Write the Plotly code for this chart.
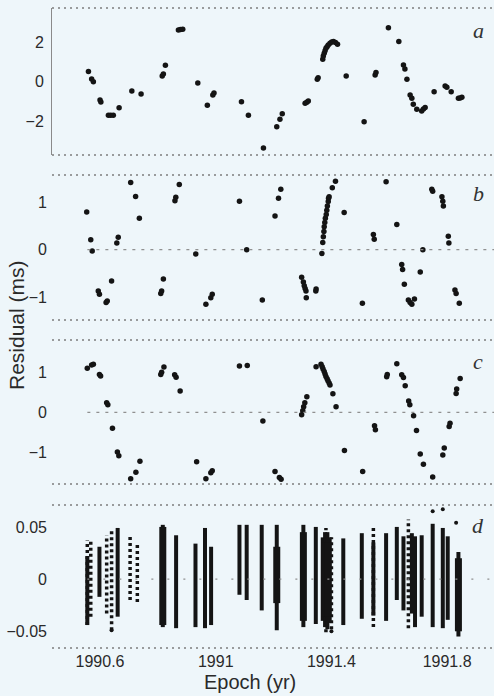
import plotly.graph_objects as go

# ---------------- data ----------------
# Panel a: residuals (ms)
a_epoch = [1990.560, 1990.571, 1990.577, 1990.600, 1990.603, 1990.629, 1990.637, 1990.646,
           1990.666, 1990.710, 1990.742, 1990.815, 1990.819, 1990.826, 1990.871, 1990.878,
           1990.886, 1990.938, 1990.971, 1990.990, 1990.994, 1991.089, 1991.113, 1991.165,
           1991.211, 1991.222, 1991.230, 1991.309, 1991.315, 1991.320, 1991.351, 1991.354,
           1991.370, 1991.372, 1991.375, 1991.378, 1991.381, 1991.385, 1991.389, 1991.395,
           1991.401, 1991.407, 1991.414, 1991.421,
           1991.451, 1991.513, 1991.551, 1991.554, 1991.597, 1991.633, 1991.649, 1991.654,
           1991.661, 1991.672, 1991.678, 1991.683, 1991.695, 1991.712, 1991.718, 1991.724,
           1991.755, 1991.793, 1991.799, 1991.814, 1991.839, 1991.845, 1991.851]
a_resid = [0.50, 0.13, -0.01, -0.94, -1.04, -1.71, -1.71, -1.71,
           -1.33, -0.48, -0.63, 0.28, 0.38, 0.82, 2.61, 2.63,
           2.64, -0.08, -1.20, -0.68, -0.58, -1.02, -1.71, -3.37,
           -2.29, -1.91, -1.63, -1.10, -1.05, -0.99, 0.11, 0.19,
           1.12, 1.29, 1.43, 1.56, 1.68, 1.76, 1.85, 1.93,
           2.00, 2.02, 1.98, 1.88,
           0.28, -2.04, 0.33, 0.45, 2.72, 2.02, 0.84, 0.63,
           0.11, -0.68, -0.85, -1.15, -1.41, -1.49, -1.39, -1.31,
           -0.52, -0.23, -0.29, -0.52, -0.85, -0.83, -0.80]

# Panel b
b_epoch = [1990.554, 1990.568, 1990.573, 1990.594, 1990.598, 1990.621, 1990.625, 1990.640,
           1990.658, 1990.663, 1990.706, 1990.723, 1990.736, 1990.810, 1990.813, 1990.819,
           1990.859, 1990.862, 1990.874, 1990.931, 1990.966, 1990.983, 1990.988, 1991.082,
           1991.107, 1991.161, 1991.205, 1991.217, 1991.225, 1991.297, 1991.303, 1991.306,
           1991.309, 1991.312, 1991.313, 1991.346, 1991.347, 1991.367,
           1991.370, 1991.372, 1991.374, 1991.375, 1991.377, 1991.379, 1991.382, 1991.384,
           1991.386, 1991.389, 1991.390, 1991.392, 1991.403, 1991.414,
           1991.444, 1991.507, 1991.545, 1991.548, 1991.589, 1991.626, 1991.643, 1991.646,
           1991.652, 1991.666, 1991.672, 1991.678, 1991.687, 1991.707, 1991.716, 1991.747,
           1991.750, 1991.782, 1991.785, 1991.787, 1991.804, 1991.806, 1991.827, 1991.831,
           1991.842]
b_resid = [0.79, 0.21, -0.03, -0.87, -0.94, -1.11, -1.08, -0.66,
           0.14, 0.26, 1.41, 1.12, 0.66, -0.92, -0.87, -0.62,
           1.03, 1.10, 1.37, -0.09, -1.15, -1.01, -0.94, 1.02,
           0.00, -1.06, 0.71, 1.08, 1.27, -0.58, -0.68, -0.76,
           -0.82, -0.87, -1.01, -0.87, -0.83, -0.08,
           0.15, 0.27, 0.38, 0.48, 0.57, 0.66, 0.74, 0.83,
           0.92, 1.01, 1.08, 1.11, 1.30, 1.44,
           0.78, -1.13, 0.32, 0.22, 1.43, 0.53, -0.31, -0.42,
           -0.73, -1.06, -1.11, -1.15, -1.04, -0.47, 0.00, 1.27,
           1.23, 1.11, 1.02, 0.92, 0.28, 0.14, -0.85, -0.92,
           -1.13]

# Panel c
c_epoch = [1990.556, 1990.571, 1990.577, 1990.598, 1990.602, 1990.623, 1990.627, 1990.643,
           1990.660, 1990.665, 1990.706, 1990.724, 1990.738, 1990.810, 1990.813, 1990.821,
           1990.858, 1990.863, 1990.877, 1990.934, 1990.966, 1990.983, 1990.988, 1991.082,
           1991.109, 1991.163, 1991.205, 1991.220, 1991.226,
           1991.297, 1991.301, 1991.304, 1991.308, 1991.315, 1991.347,
           1991.364, 1991.368, 1991.371, 1991.375, 1991.378, 1991.381, 1991.385, 1991.388,
           1991.392, 1991.395,
           1991.405, 1991.416, 1991.445, 1991.508, 1991.549, 1991.552, 1991.591, 1991.593,
           1991.626, 1991.643, 1991.649, 1991.655, 1991.667, 1991.671, 1991.684, 1991.694,
           1991.707, 1991.718, 1991.750, 1991.785, 1991.790, 1991.807, 1991.810, 1991.831,
           1991.833, 1991.845]
c_resid = [1.09, 1.17, 1.19, 0.94, 0.90, 0.24, 0.19, -0.39,
           -0.98, -1.07, -1.64, -1.48, -1.21, 0.94, 0.99, 1.12,
           0.93, 0.87, 0.53, -1.22, -1.64, -1.49, -1.44, 1.15,
           1.16, -0.21, -1.46, -1.61, -1.65,
           -0.06, 0.04, 0.14, 0.24, 0.39, 1.13,
           1.19, 1.13, 1.07, 1.01, 0.95, 0.89, 0.83, 0.78,
           0.73, 0.68,
           0.46, 0.14, -0.94, -1.46, -0.33, -0.43, 0.88, 0.94,
           1.20, 0.93, 0.86, 0.66, 0.28, 0.19, -0.08, -0.45,
           -1.03, -1.28, -1.60, -1.05, -0.88, -0.35, -0.27, 0.47,
           0.58, 0.84]

# Panel d: extent of each observing run's residual scatter (ms)
d_dense_epoch = [1990.556, 1990.598, 1990.661, 1990.817, 1990.863, 1990.930, 1990.963, 1990.984,
                 1991.082, 1991.107, 1991.159, 1991.211, 1991.303, 1991.346, 1991.370, 1991.378,
                 1991.386, 1991.394, 1991.441, 1991.505, 1991.545, 1991.589, 1991.626, 1991.649,
                 1991.678, 1991.689, 1991.712, 1991.750, 1991.785, 1991.802, 1991.839]
d_dense_top = [0.022, 0.031, 0.049, 0.052, 0.042, 0.034, 0.049, 0.031,
               0.052, 0.052, 0.052, 0.052, 0.052, 0.050, 0.040, 0.045,
               0.045, 0.040, 0.039, 0.044, 0.035, 0.044, 0.050, 0.041,
               0.044, 0.041, 0.042, 0.053, 0.049, 0.041, 0.026]
d_dense_bottom = [-0.044, -0.017, -0.036, -0.046, -0.047, -0.046, -0.047, -0.044,
                  -0.015, -0.020, -0.030, -0.049, -0.046, -0.043, -0.040, -0.046,
                  -0.048, -0.042, -0.044, -0.038, -0.035, -0.040, -0.020, -0.030,
                  -0.033, -0.046, -0.036, -0.046, -0.047, -0.039, -0.055]
d_core_epoch = [1990.817, 1991.211, 1991.303, 1991.376, 1991.388, 1991.839]
d_core_top = [0.050, 0.031, 0.045, 0.035, 0.035, 0.020]
d_core_bottom = [-0.044, -0.023, -0.040, -0.036, -0.036, -0.050]
d_sparse_epoch = [1990.556, 1990.568, 1990.623, 1990.640, 1990.704, 1990.729, 1991.381, 1991.400,
                  1991.545, 1991.666]
d_sparse_top = [0.037, 0.036, 0.042, 0.047, 0.041, 0.033, 0.049, 0.040, 0.049, 0.057]
d_sparse_bottom = [-0.044, -0.036, -0.033, -0.049, -0.020, -0.022, -0.051, -0.048, -0.046, -0.047]
d_out_epoch = [1991.750, 1991.785, 1991.831, 1990.640, 1991.400]
d_out_resid = [0.065, 0.067, 0.054, -0.049, -0.050]

x_ticks = [1990.6, 1991.0, 1991.4, 1991.8]
x_ticktext = ["1990.6", "1991", "1991.4", "1991.8"]
panel_labels = ["a", "b", "c", "d"]

# ---------------- figure ----------------
W, H = 494, 696
BG = "#eef6fa"
INK = "#141414"
SANS = "Liberation Sans, Arial, sans-serif"

def segs(xs, lo, hi):
    X, Y = [], []
    for x, a, b in zip(xs, lo, hi):
        X += [x, x, None]
        Y += [a, b, None]
    return X, Y

fig = go.Figure()
mk = dict(size=5.5, color=INK)
fig.add_trace(go.Scatter(x=a_epoch, y=a_resid, mode="markers", marker=mk, yaxis="y"))
fig.add_trace(go.Scatter(x=b_epoch, y=b_resid, mode="markers", marker=mk, yaxis="y2"))
fig.add_trace(go.Scatter(x=c_epoch, y=c_resid, mode="markers", marker=mk, yaxis="y3"))

X, Y = segs(d_sparse_epoch, d_sparse_bottom, d_sparse_top)
fig.add_trace(go.Scatter(x=X, y=Y, mode="lines", yaxis="y4",
                         line=dict(color=INK, width=3.5, dash="3px,3px")))
X, Y = segs(d_dense_epoch, d_dense_bottom, d_dense_top)
fig.add_trace(go.Scatter(x=X, y=Y, mode="lines", yaxis="y4",
                         line=dict(color=INK, width=4)))
X, Y = segs(d_core_epoch, d_core_bottom, d_core_top)
fig.add_trace(go.Scatter(x=X, y=Y, mode="lines", yaxis="y4",
                         line=dict(color=INK, width=7)))
fig.add_trace(go.Scatter(x=d_out_epoch, y=d_out_resid, mode="markers", yaxis="y4",
                         marker=dict(size=4, color=INK)))

def px2dom(top, bottom):
    return [1 - bottom / H, 1 - top / H]

panels = [  # pixel top, bottom, range, ticks
    (8, 155, [-3.72, 3.72], [-2, 0, 2], ["\u22122", "0", "2"]),
    (175, 320, [-1.48, 1.57], [-1, 0, 1], ["\u22121", "0", "1"]),
    (340, 484, [-1.77, 1.79], [-1, 0, 1], ["\u22121", "0", "1"]),
    (505, 648, [-0.066, 0.071], [-0.05, 0, 0.05], ["\u22120.05", "0", "0.05"]),
]

layout = dict(
    width=W, height=H,
    margin=dict(l=0, r=0, t=0, b=0),
    paper_bgcolor=BG, plot_bgcolor=BG,
    showlegend=False,
    font=dict(family=SANS, color="#2a2a2a"),
    xaxis=dict(domain=[52 / W, 1], range=[1990.434, 1991.962], anchor="y4",
               tickvals=x_ticks, ticktext=x_ticktext, showgrid=False, zeroline=False,
               showline=False, ticks="", ticklabelstandoff=2,
               tickfont=dict(size=16, family=SANS, color="#2a2a2a"),
               automargin=False),
)
names = ["yaxis", "yaxis2", "yaxis3", "yaxis4"]
refs = ["y", "y2", "y3", "y4"]
shapes = []
annotations = []
label_y = [30, 193, 361, 525]
for i, (top, bot, rng, tv, tt) in enumerate(panels):
    layout[names[i]] = dict(
        domain=px2dom(top, bot), range=rng, anchor="x",
        tickvals=tv, ticktext=tt, showgrid=False, zeroline=False,
        showline=(i == 0), linecolor="#8a8a8a", linewidth=1,
        ticks="", ticklabelstandoff=4,
        tickfont=dict(size=16, family=SANS, color="#2a2a2a"), automargin=False,
    )
    for yy in (0, 1):
        shapes.append(dict(type="line", xref="x domain", yref=refs[i] + " domain",
                           x0=0, x1=1, y0=yy, y1=yy,
                           line=dict(color="#7e7e7e", width=1.3, dash="2px,4px")))
    if i > 0:
        shapes.append(dict(type="line", xref="x domain", yref=refs[i],
                           x0=0.08, x1=1, y0=0, y1=0,
                           line=dict(color="#909090", width=1.2,
                                     dash="3px,6px" if i < 3 else "2px,14px")))
    annotations.append(dict(text="<i>" + panel_labels[i] + "</i>", xref="paper", yref="paper",
                            x=478 / W, y=1 - label_y[i] / H, showarrow=False,
                            xanchor="center", yanchor="middle",
                            font=dict(family="Liberation Serif, Times New Roman, serif",
                                      size=22, color="#333333")))

annotations.append(dict(text="Residual (ms)", xref="paper", yref="paper",
                        x=16 / W, y=1 - 325 / H, textangle=-90, showarrow=False,
                        xanchor="center", yanchor="middle",
                        font=dict(family=SANS, size=21, color="#2a2a2a")))
annotations.append(dict(text="Epoch (yr)", xref="paper", yref="paper",
                        x=250 / W, y=1 - 682 / H, showarrow=False,
                        xanchor="center", yanchor="middle",
                        font=dict(family=SANS, size=20, color="#2a2a2a")))
layout["shapes"] = shapes
layout["annotations"] = annotations
fig.update_layout(**layout)

fig.write_html(
    "out.html",
    config={"displayModeBar": False},
    post_script="document.body.style.margin='0';document.body.style.overflow='hidden';",
)
